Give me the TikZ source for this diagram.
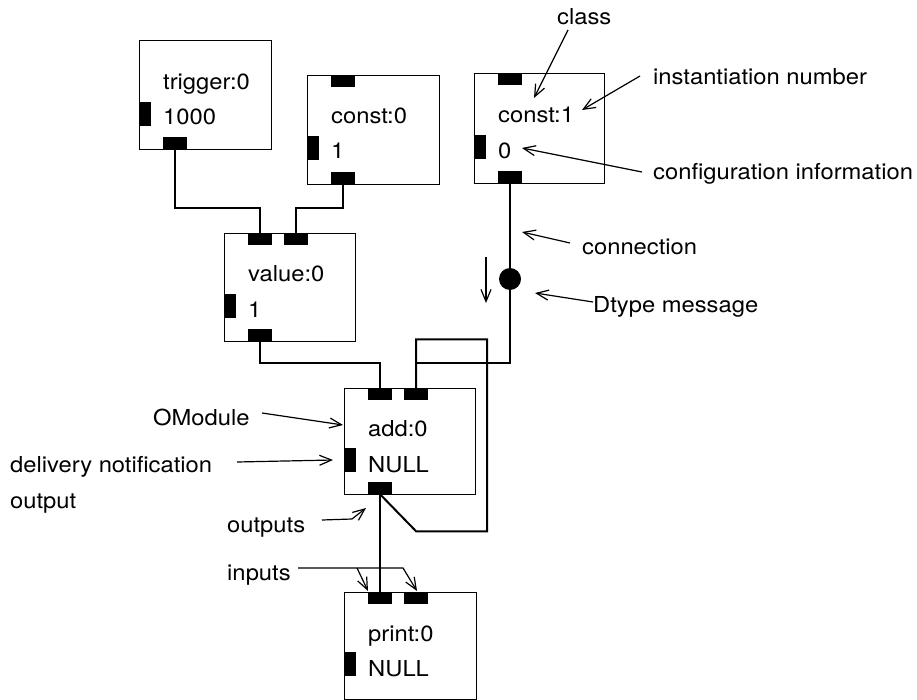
\documentclass[tikz,border=0pt]{standalone}
\usepackage{fontspec}
\setmainfont{TeX Gyre Heros}[FakeStretch=1.08]
\usetikzlibrary{arrows.meta}
\begin{document}
\begin{tikzpicture}[x=1pt,y=-1pt,
  box/.style={draw, line width=1.3pt, minimum width=132pt, minimum height=108pt, inner sep=0pt, anchor=north west},
  tport/.style={fill=black, minimum width=24pt, minimum height=12pt, inner sep=0pt, anchor=north west},
  lport/.style={fill=black, minimum width=12pt, minimum height=24pt, inner sep=0pt, anchor=north west},
  wire/.style={line width=2pt},
  note/.style={line width=1.2pt, -{Straight Barb[length=12pt,width=10pt,line width=1.2pt]}},
  lbl/.style={anchor=base west, inner sep=0pt, font=\fontsize{22}{26}\selectfont},
]
\useasboundingbox (0,0) rectangle (917,700);

% trigger:0
\node[box, minimum height=109pt] (trig) at (139,40) {};
\node[lport] (trig-c) at (139,102) {};
\node[tport] (trig-o) at (163,137) {};
\node[lbl] (trig-t) at (163,90) {trigger:0};
\node[lbl] (trig-v) at (163,125) {1000};

% const:0
\node[box, minimum height=109pt] (c0) at (307,75) {};
\node[tport] (c0-i1) at (331,75) {};
\node[lport] (c0-c) at (307,136) {};
\node[tport] (c0-o) at (331,172) {};
\node[lbl] (c0-t) at (331,124) {const:0};
\node[lbl] (c0-v) at (331,159) {1};

% const:1
\node[box, minimum height=110pt, minimum width=130pt] (c1) at (474,73) {};
\node[tport] (c1-i1) at (498,73) {};
\node[lport] (c1-c) at (474,135) {};
\node[tport] (c1-o) at (498,171) {};
\node[lbl] (c1-t) at (498,123) {const:1};
\node[lbl] (c1-v) at (498,159) {0};

% value:0
\node[box, minimum height=108pt, minimum width=131pt] (val) at (224,233) {};
\node[tport] (val-i1) at (248,233) {};
\node[tport] (val-i2) at (284,233) {};
\node[lport] (val-c) at (224,294) {};
\node[tport] (val-o) at (248,329) {};
\node[lbl] (val-t) at (248,281) {value:0};
\node[lbl] (val-v) at (248,317) {1};

% add:0
\node[box, minimum height=106pt, minimum width=131pt] (add) at (344,388) {};
\node[tport] (add-i1) at (368,388) {};
\node[tport] (add-i2) at (404,388) {};
\node[lport] (add-c) at (344,448) {};
\node[tport] (add-o) at (368,482) {};
\node[lbl] (add-t) at (368,436) {add:0};
\node[lbl] (add-v) at (368,472) {NULL};

% print:0
\node[box, minimum height=107pt, minimum width=132pt] (pr) at (344,592) {};
\node[tport] (pr-i1) at (368,592) {};
\node[tport] (pr-i2) at (404,592) {};
\node[lport] (pr-c) at (344,652) {};
\node[lbl] (pr-t) at (368,641) {print:0};
\node[lbl] (pr-v) at (368,676) {NULL};

% wires
\draw[wire] (trig-o.south) -- ++(0,59) -| (val-i1.north);
\draw[wire] (c0-o.south) -- ++(0,24) -| (val-i2.north);
\draw[wire] (c1-o.south) -- ++(0,180) -| (add-i2.north);
\draw[wire] (val-o.south) -- ++(0,22) -| (add-i1.north);
\draw[wire] (add-o.south) -- ++(36,37) -- ++(71,0) -- ++(0,-192) -- ++(-71,0) -- (add-i2.north);
\draw[wire] (add-o.south) -- (pr-i1.north);
\node[circle, fill=black, minimum size=22pt, inner sep=0pt] (msg) at (510,279) {};

% annotation labels
\node[lbl] (l-class) at (557,25) {class};
\node[lbl] (l-inst) at (653,85) {instantiation number};
\node[lbl] (l-conf) at (653,180) {configuration information};
\node[lbl] (l-conn) at (582,255) {connection};
\node[lbl] (l-dtype) at (593,312) {Dtype message};
\node[lbl] (l-omod) at (153,425) {OModule};
\node[lbl] (l-deliv) at (10,472) {delivery notification};
\node[lbl] (l-out) at (10,508) {output};
\node[lbl] (l-outs) at (227,532) {outputs};
\node[lbl] (l-ins) at (227,580) {inputs};

% annotation arrows
\coordinate (a-class) at (534,98);
\coordinate (a-inst) at (582,110);
\coordinate (a-conf) at (522,148);
\coordinate (a-conn) at (522,232);
\coordinate (a-dtype) at (535,293);
\coordinate (a-omod) at (343,425);
\coordinate (a-deliv) at (333,460);
\coordinate (a-outs) at (366,508);
\coordinate (a-in1) at (368,591);
\coordinate (a-in2) at (417,591);
\coordinate (a-dir) at (486,303);

\draw[note] (568,30) -- (a-class);
\draw[note] (640,76) -- (a-inst);
\draw[note] (642,172) -- (a-conf);
\draw[note] (570,243) -- (a-conn);
\draw[note] (593,302) -- (a-dtype);
\draw[note] (262,413) -- (a-omod);
\draw[note] (237,462) -- (a-deliv);
\draw[note] (322,520) -- (352,519) -- (a-outs);
\draw[note] (298,568) -- (403,568) -- (a-in2);
\draw[note] (357,568) -- (a-in1);
\draw[note] (486,257) -- (a-dir);
\end{tikzpicture}
\end{document}
